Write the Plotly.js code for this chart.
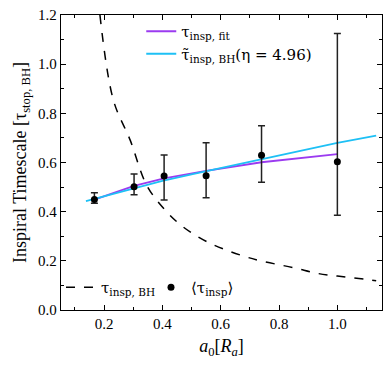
<!DOCTYPE html>
<html>
<head>
<meta charset="utf-8">
<script src="https://cdn.plot.ly/plotly-3.0.1.min.js"></script>
<style>
  html, body { margin: 0; padding: 0; background: #fff; }
  #chart { width: 390px; height: 365px; }
</style>
</head>
<body>
<div id="chart"></div>
<script>
// measured <tau_insp> with asymmetric errors
var a0 = [0.167, 0.303, 0.406, 0.55, 0.74, 1.0];
var tauMean = [0.450, 0.501, 0.545, 0.546, 0.629, 0.603];
var errUp = [0.027, 0.052, 0.086, 0.134, 0.120, 0.522];
var errDown = [0.016, 0.032, 0.098, 0.089, 0.109, 0.218];

// fit evaluated at the data points
var tauFit = [0.449, 0.505, 0.535, 0.566, 0.601, 0.634];

// model curve with eta = 4.96
var aModel = [0.138, 0.2, 0.3, 0.4, 0.5, 0.6, 0.7, 0.8, 0.9, 1.0, 1.133];
var tauModel = [0.443, 0.462, 0.495, 0.525, 0.552, 0.578, 0.603, 0.630, 0.655, 0.680, 0.709];

// tau_insp,BH (dashed)
var aBH = [0.186, 0.232, 0.29, 0.346, 0.409, 0.47, 0.552, 0.666, 0.737, 0.85, 0.931, 1.0, 1.116, 1.133];
var tauBH = [1.2, 0.854, 0.69, 0.508, 0.407, 0.339, 0.278, 0.224, 0.200, 0.172, 0.149, 0.138, 0.122, 0.119];

var serif = 'Liberation Serif, DejaVu Serif, serif';
var legFont = 'DejaVu Serif, Liberation Serif, serif';

var fit = {
  x: a0, y: tauFit, mode: 'lines', name: 'τ<sub>insp, fit</sub>',
  line: {color: '#9b3bf0', width: 1.8}, legend: 'legend'
};
var model = {
  x: aModel, y: tauModel, mode: 'lines', name: 'τ\u0303<sub>insp, BH</sub>(η = 4.96)',
  line: {color: '#1ec0f5', width: 1.8}, legend: 'legend'
};
var bh = {
  x: aBH, y: tauBH, mode: 'lines', name: 'τ<sub>insp, BH</sub>',
  line: {color: 'black', width: 1.5, dash: 'dash', shape: 'spline'}, legend: 'legend2'
};
var pts = {
  x: a0, y: tauMean, mode: 'markers', name: '⟨τ<sub>insp</sub>⟩',
  marker: {color: 'black', size: 7},
  error_y: {type: 'data', symmetric: false, array: errUp, arrayminus: errDown,
            color: '#222', thickness: 1.5, width: 3.5},
  legend: 'legend2'
};

var data = [bh, fit, model, pts];

var axisCommon = {
  showgrid: false, zeroline: false, showline: true, linecolor: 'black', linewidth: 1.2,
  mirror: 'allticks', ticks: 'inside', ticklen: 5, tickcolor: 'black',
  tickfont: {family: serif, size: 15, color: 'black'},
  minor: {ticks: 'inside', ticklen: 3, tickcolor: 'black', dtick: 0.1}
};

var layout = {
  width: 390, height: 365,
  margin: {l: 61, r: 8, t: 15, b: 55},
  paper_bgcolor: 'white', plot_bgcolor: 'white',
  font: {family: serif, color: 'black'},
  xaxis: Object.assign({}, axisCommon, {
    range: [0.0525, 1.153], dtick: 0.2, tick0: 0, tickformat: '.1f',
    title: {text: '<i>a</i><sub>0</sub>[<i>R<sub>a</sub></i>]', font: {family: serif, size: 18}, standoff: 8}
  }),
  yaxis: Object.assign({}, axisCommon, {
    range: [0, 1.2], dtick: 0.2, tickformat: '.1f',
    title: {text: 'Inspiral Timescale [τ<sub>stop, BH</sub>]', font: {family: serif, size: 18}, standoff: 6}
  }),
  legend: {
    x: 0.25, y: 1.0, xanchor: 'left', yanchor: 'top', bgcolor: 'rgba(0,0,0,0)',
    font: {family: legFont, size: 15}, itemwidth: 30, tracegroupgap: 0
  },
  legend2: {
    x: 0.0, y: 0.02, xanchor: 'left', yanchor: 'bottom', orientation: 'h', bgcolor: 'rgba(0,0,0,0)',
    font: {family: legFont, size: 15}, itemwidth: 30, entrywidth: 45, entrywidthmode: 'pixels'
  },
  showlegend: true
};

Plotly.newPlot('chart', data, layout, {displayModeBar: false, staticPlot: true});
</script>
</body>
</html>
